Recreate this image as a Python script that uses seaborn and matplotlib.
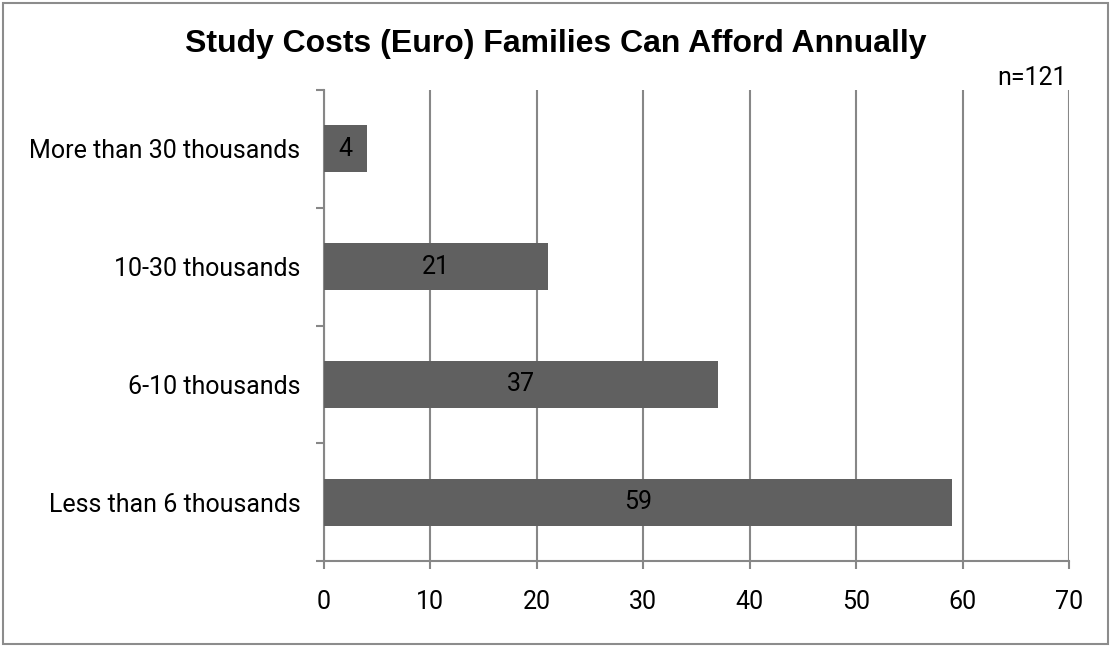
import matplotlib
matplotlib.use("Agg")
import matplotlib.pyplot as plt
from matplotlib.patches import Rectangle
import seaborn as sns
import pandas as pd

categories = ["More than 30 thousands", "10-30 thousands", "6-10 thousands", "Less than 6 thousands"]
counts = [4, 21, 37, 59]
x_ticks = [0, 10, 20, 30, 40, 50, 60, 70]
title = "Study Costs (Euro) Families Can Afford Annually"
sample_note = "n=121"

df = pd.DataFrame({"category": categories, "count": counts})

sns.set_style("white")
plt.rcParams["font.family"] = ["Roboto", "DejaVu Sans"]
plt.rcParams["text.color"] = "black"

grid_col = "#878787"
bar_col = "#606060"

fig = plt.figure(figsize=(11.12, 6.46), dpi=100)
ax = fig.add_axes([324 / 1112, 1 - 561 / 646, (1069 - 324) / 1112, (561 - 90) / 646])

sns.barplot(data=df, x="count", y="category", order=categories, orient="h",
            color=bar_col, saturation=1, width=0.4, ax=ax, zorder=3)
for p in ax.patches:
    p.set_edgecolor("none")

ax.set_xlim(0, 70)
ax.set_ylim(3.5, -0.5)
ax.set_xticks(x_ticks)
ax.set_xlabel("")
ax.set_ylabel("")
ax.xaxis.grid(True, color=grid_col, linewidth=1.5, zorder=0)
ax.set_axisbelow(True)

for side in ["top", "right"]:
    ax.spines[side].set_visible(False)
for side in ["left", "bottom"]:
    ax.spines[side].set_color(grid_col)
    ax.spines[side].set_linewidth(1.5)

ax.set_yticks([-0.5, 0.5, 1.5, 2.5, 3.5], minor=True)
ax.tick_params(axis="y", which="major", left=True, length=0, pad=17, labelsize=18,
               labelcolor="black")
ax.tick_params(axis="y", which="minor", left=True, length=6, width=1.5, color=grid_col,
               direction="out")
ax.tick_params(axis="x", which="major", bottom=True, length=6, width=1.5, color=grid_col,
               direction="out", pad=15, labelsize=18, labelcolor="black")

ax.bar_label(ax.containers[0], labels=[str(v) for v in counts], label_type="center",
             fontsize=18, color="black")

fig.text(556 / 1112, 1 - 44 / 646, title, ha="center", va="center",
         fontsize=23, fontweight="bold", family="Liberation Sans", color="black")
fig.text(1067 / 1112, 1 - 78 / 646, sample_note, ha="right", va="center", fontsize=18,
         color="black")

fig.patches.append(Rectangle((3 / 1112, 2 / 646), 1105 / 1112, 641 / 646,
                             transform=fig.transFigure, fill=False,
                             edgecolor="#8c8c8c", linewidth=1.5))

fig.savefig("out.png", dpi=100)
